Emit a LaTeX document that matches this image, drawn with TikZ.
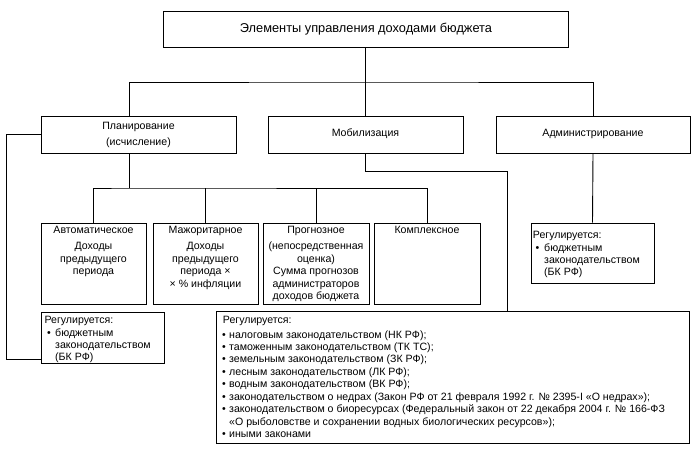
\documentclass[tikz,border=0pt]{standalone}
\usepackage{fontspec}
\setmainfont{Liberation Sans}
\begin{document}
\begin{tikzpicture}[x=1pt,y=-1pt,
  box/.style 2 args={draw, line width=0.9pt, inner sep=0pt, minimum width=#1, minimum height=#2},
  ln/.style={line width=0.9pt},
  tx/.style={inner sep=0pt, text height=7.5pt, text depth=2pt, font=\fontsize{10.6}{12}\selectfont},
  tl/.style={tx, anchor=west},
  bl/.style={tx, anchor=center}]
\useasboundingbox (0,0) rectangle (699,454);
% boxes
\node[box={405pt}{36pt}] (top) at (365.5,29) {};
\node[box={195pt}{37pt}] (plan) at (138.5,134.5) {};
\node[box={195pt}{37pt}] (mob) at (365.5,134.5) {};
\node[box={194pt}{37pt}] (adm) at (593,134.5) {};
\node[box={105pt}{81pt}] (avt) at (93.5,263.5) {};
\node[box={105pt}{81pt}] (maz) at (205.5,263.5) {};
\node[box={106pt}{81pt}] (prog) at (316,263.5) {};
\node[box={106pt}{81pt}] (komp) at (427,263.5) {};
\node[box={123pt}{51pt}] (lreg) at (102.5,337.5) {};
\node[box={473pt}{132pt}] (big) at (452.5,377.5) {};
\node[box={123pt}{60pt}] (areg) at (592.5,253) {};
% connectors
\coordinate (b1) at (366,82);
\coordinate (b2) at (129,188);
\coordinate (m1) at (507,171);
\coordinate (lb) at (6,359);
\draw[ln] (top.south) -- (mob.north);
\draw[ln] ([xshift=-9.5pt]plan.north) |- (b1) -| (adm.north);
\draw[ln] ([xshift=-9.5pt]plan.south) -- (b2);
\draw[ln] (avt.north) |- (b2) -| (komp.north);
\draw[ln] (maz.north) -- (maz.north |- b2);
\draw[ln] (prog.north) -- (prog.north |- b2);
\draw[ln] (mob.south) |- (m1) -- (m1 |- big.north);
\draw[ln] (adm.south) -- (areg.north);
\draw[ln] (plan.west) -| (lb) -- (lb -| lreg.west);
% texts
\node[tx, font=\fontsize{12.8}{14}\selectfont] (t0) at (366,30) {Элементы управления доходами бюджета};
\node[tx] (p1) at (138.5,127) {Планирование};
\node[tx] (p2) at (138.5,143) {(исчисление)};
\node[tx] (mo1) at (365.5,134) {Мобилизация};
\node[tx] (ad1) at (593,134) {Администрирование};
\node[tx] (a1) at (93.5,231) {Автоматическое};
\node[tx] (a2) at (93.5,246.7) {Доходы};
\node[tx] (a3) at (93.5,259.3) {предыдущего};
\node[tx] (a4) at (93.5,271.7) {периода};
\node[tx] (z1) at (205.5,231) {Мажоритарное};
\node[tx] (z2) at (205.5,246.7) {Доходы};
\node[tx] (z3) at (205.5,259.3) {предыдущего};
\node[tx] (z4) at (205.5,271.7) {периода ×};
\node[tx] (z5) at (205.5,284.3) {× \% инфляции};
\node[tx] (g1) at (316,231) {Прогнозное};
\node[tx] (g2) at (316,246.7) {(непосредственная};
\node[tx] (g3) at (316,259.3) {оценка)};
\node[tx] (g4) at (316,271.7) {Сумма прогнозов};
\node[tx] (g5) at (316,284.3) {администраторов};
\node[tx] (g6) at (316,296.7) {доходов бюджета};
\node[tx] (k1) at (427,231) {Комплексное};
% left regulated
\node[tl] (l0) at (44.3,321) {Регулируется:};
\node[bl] (lb1) at (49,334) {•};
\node[tl] (l1) at (55,334) {бюджетным};
\node[tl] (l2) at (55,346) {законодательством};
\node[tl] (l3) at (55,358) {(БК РФ)};
% admin regulated
\node[tl] (r0) at (532.7,236) {Регулируется:};
\node[bl] (rb1) at (537.5,249) {•};
\node[tl] (r1) at (544,249) {бюджетным};
\node[tl] (r2) at (544,261) {законодательством};
\node[tl] (r3) at (544,273) {(БК РФ)};
% big regulated
\node[tl] (s0) at (222.7,320.7) {Регулируется:};
\node[bl] (sb1) at (224,335.7) {•};
\node[tl] (s1) at (229,335.7) {налоговым законодательством (НК РФ);};
\node[bl] (sb2) at (224,347.7) {•};
\node[tl] (s2) at (229,347.7) {таможенным законодательством (ТК ТС);};
\node[bl] (sb3) at (224,360) {•};
\node[tl] (s3) at (229,360) {земельным законодательством (ЗК РФ);};
\node[bl] (sb4) at (224,372.3) {•};
\node[tl] (s4) at (229,372.3) {лесным законодательством (ЛК РФ);};
\node[bl] (sb5) at (224,384.7) {•};
\node[tl] (s5) at (229,384.7) {водным законодательством (ВК РФ);};
\node[bl] (sb6) at (224,397.3) {•};
\node[tl] (s6) at (229,397.3) {законодательством о недрах (Закон РФ от 21 февраля 1992 г. № 2395-I «О недрах»);};
\node[bl] (sb7) at (224,410) {•};
\node[tl] (s7) at (229,410) {законодательством о биоресурсах (Федеральный закон от 22 декабря 2004 г. № 166-ФЗ};
\node[tl] (s8) at (229,422.7) {«О рыболовстве и сохранении водных биологических ресурсов»);};
\node[bl] (sb9) at (224,435) {•};
\node[tl] (s9) at (229,435) {иными законами};
\end{tikzpicture}
\end{document}
